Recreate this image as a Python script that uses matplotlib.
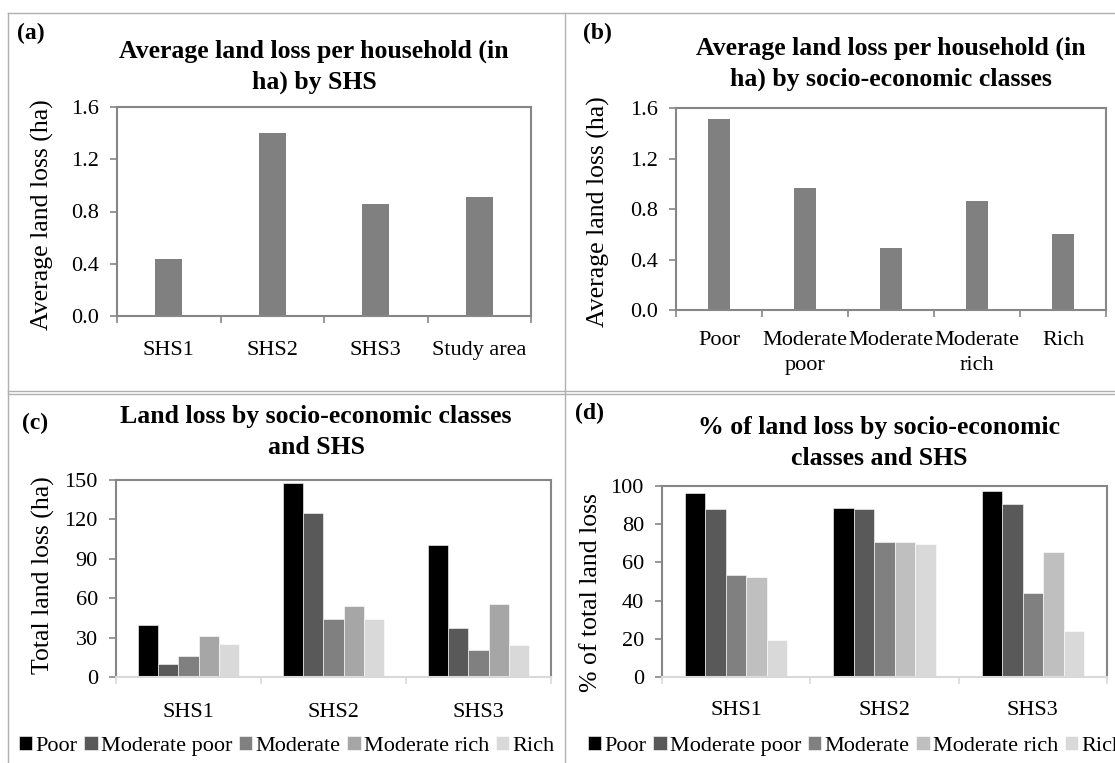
import numpy as np
import matplotlib
matplotlib.use('Agg')
import matplotlib.pyplot as plt
from matplotlib.lines import Line2D
from matplotlib.ticker import FormatStrFormatter

# panel (a): average land loss per household by SHS
shs_avg_labels = ['SHS1', 'SHS2', 'SHS3', 'Study area']
shs_avg = [0.44, 1.40, 0.86, 0.91]

# panel (b): average land loss per household by class
class_avg_labels = ['Poor', 'Moderate\npoor', 'Moderate', 'Moderate\nrich', 'Rich']
class_avg = [1.51, 0.97, 0.49, 0.86, 0.60]

# panels (c) and (d)
shs_labels = ['SHS1', 'SHS2', 'SHS3']
class_names = ['Poor', 'Moderate poor', 'Moderate', 'Moderate rich', 'Rich']

loss_poor = [39.7, 148.0, 100.3]
loss_mod_poor = [9.9, 124.6, 37.1]
loss_moderate = [16.2, 44.2, 20.8]
loss_mod_rich = [31.3, 54.1, 55.6]
loss_rich = [25.2, 44.5, 24.3]

pct_poor = [96.2, 88.5, 97.2]
pct_mod_poor = [88.1, 87.9, 90.7]
pct_moderate = [53.3, 70.8, 44.2]
pct_mod_rich = [52.3, 70.6, 65.6]
pct_rich = [19.6, 69.4, 24.1]

W, H = 1115, 763
plt.rcParams['font.family'] = ['Liberation Serif', 'DejaVu Serif']
TICK_FS = 16
LABEL_FS = 18.5
TITLE_FS = 18.5
FRAME = '#868686'

fig = plt.figure(figsize=(W / 100, H / 100), dpi=100)


def fx(x):
    return x / W


def fy(y):
    return 1 - y / H


def make_axes(left, top, right, bottom):
    return fig.add_axes([fx(left), fy(bottom), (right - left) / W, (bottom - top) / H])


def style_axes(ax, n, ylim, yticks, fmt, pad, light_bottom=False):
    ax.set_xlim(-0.5, n - 0.5)
    ax.set_ylim(*ylim)
    ax.set_yticks(yticks)
    ax.yaxis.set_major_formatter(FormatStrFormatter(fmt))
    for s in ax.spines.values():
        s.set_color(FRAME)
        s.set_linewidth(1.5)
    bottom_col = '#d9d9d9' if light_bottom else FRAME
    ax.spines['bottom'].set_color(bottom_col)
    ax.set_xticks(np.arange(n))
    ax.set_xticks(np.arange(n + 1) - 0.5, minor=True)
    ax.tick_params(axis='x', which='major', length=0, pad=pad, labelsize=TICK_FS)
    ax.tick_params(axis='x', which='minor', length=5, width=1.2, color=bottom_col, direction='out')
    ax.tick_params(axis='y', length=5, width=1.2, color=FRAME, labelsize=TICK_FS, pad=8)


# ---- (a)
ax_a = make_axes(117, 107, 531, 316)
ax_a.bar(np.arange(len(shs_avg)), shs_avg, width=0.26, color='#808080')
style_axes(ax_a, len(shs_avg), (0, 1.6), np.arange(0, 1.61, 0.4), '%.1f', 18)
ax_a.set_xticklabels(shs_avg_labels)

# ---- (b)
ax_b = make_axes(676, 108, 1106, 310)
ax_b.bar(np.arange(len(class_avg)), class_avg, width=0.25, color='#808080')
style_axes(ax_b, len(class_avg), (0, 1.6), np.arange(0, 1.61, 0.4), '%.1f', 15)
ax_b.set_xticklabels(class_avg_labels, linespacing=1.45)

# ---- (c) and (d) grouped bars
def grouped(ax, series, colors):
    n = len(series)
    bw = 0.69 / n
    x = np.arange(len(shs_labels))
    handles = []
    for i, (vals, col) in enumerate(zip(series, colors)):
        b = ax.bar(x - 0.345 + bw * (i + 0.5), vals, width=bw, color=col,
                   edgecolor='white', linewidth=0.4)
        handles.append(b)
    return handles


ax_c = make_axes(116, 480, 551, 677)
h_c = grouped(ax_c, [loss_poor, loss_mod_poor, loss_moderate, loss_mod_rich, loss_rich],
              ['#000000', '#595959', '#808080', '#a6a6a6', '#d9d9d9'])
style_axes(ax_c, 3, (0, 150), np.arange(0, 151, 30), '%d', 19, light_bottom=True)
ax_c.set_xticklabels(shs_labels)

ax_d = make_axes(662, 486, 1107, 677)
h_d = grouped(ax_d, [pct_poor, pct_mod_poor, pct_moderate, pct_mod_rich, pct_rich],
              ['#000000', '#595959', '#808080', '#bfbfbf', '#d9d9d9'])
style_axes(ax_d, 3, (0, 100), np.arange(0, 101, 20), '%d', 17, light_bottom=True)
ax_d.set_xticklabels(shs_labels)

for handles, x0 in [(h_c, 19), (h_d, 588)]:
    fig.legend(handles, class_names, loc='center left', bbox_to_anchor=(fx(x0), fy(746)),
               ncol=5, frameon=False, fontsize=TICK_FS, handlelength=0.6, handleheight=0.6,
               handletextpad=0.15, columnspacing=0.3, borderpad=0, borderaxespad=0)

# titles, panel letters, y labels
titles = [
    ('Average land loss per household (in\nha) by SHS', 314, 67),
    ('Average land loss per household (in\nha) by socio-economic classes', 891, 64),
    ('Land loss by socio-economic classes\nand SHS', 316, 432),
    ('% of land loss by socio-economic\nclasses and SHS', 879, 443),
]
for txt, x, y in titles:
    fig.text(fx(x), fy(y), txt, ha='center', va='center', fontsize=TITLE_FS,
             fontweight='bold', linespacing=1.4)

for txt, x, y in [('(a)', 17, 33), ('(b)', 583, 33), ('(c)', 22, 423), ('(d)', 575, 413)]:
    fig.text(fx(x), fy(y), txt, ha='left', va='center', fontsize=TICK_FS + 1, fontweight='bold')

for txt, x, y in [('Average land loss (ha)', 42, 215), ('Average land loss (ha)', 598, 212),
                  ('Total land loss (ha)', 43, 575), ('% of total land loss', 591, 593)]:
    fig.text(fx(x), fy(y), txt, ha='center', va='center', rotation=90, fontsize=LABEL_FS)

# table borders around the panels
border = '#b0b0b0'
for xs, ys in [((8, W), (13, 13)), ((8, W), (391, 391)), ((8, W), (394, 394)),
               ((8, 8), (13, H)), ((565, 565), (13, H))]:
    fig.add_artist(Line2D([fx(v) for v in xs], [fy(v) for v in ys], color=border,
                          linewidth=1.0, transform=fig.transFigure))

fig.savefig('out.png', dpi=100)
